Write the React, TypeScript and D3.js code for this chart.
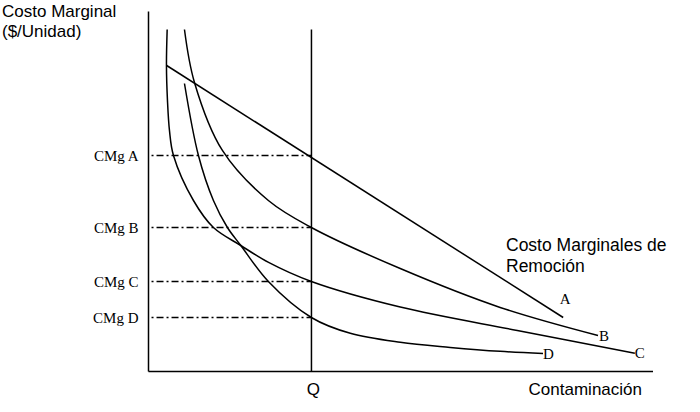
import React from "react";
import * as d3 from "d3";

// ---- data (conceptual units: x = contamination 0..100, y = marginal cost 0..100)
const Q = 32.3;
const cmgLabels = ["CMg A", "CMg B", "CMg C", "CMg D"];
const cmgValues = [60, 40, 25, 15];

const curveAX = [3.6, 82.2];
const curveAY = [85, 15];

const curveBX = [7.13, 9.11, 14.65, 23.76, 32.28, 49.9, 69.7, 89.1];
const curveBY = [95, 80.3, 61.4, 47.5, 40.0, 28.6, 17.8, 10.0];

const curveCX = [3.7, 3.56, 3.76, 4.16, 4.95, 8.91, 12.87, 18.3, 23.8, 32.28, 49.9, 73.1, 96.4];
const curveCY = [95, 85, 75.3, 66.9, 60, 47.5, 40, 35.0, 30.3, 25, 17.9, 11.4, 5.1];

const curveDX = [7.13, 9.9, 12.87, 15.64, 18.3, 23.76, 32.28, 40.0, 49.9, 59.8, 69.7, 78.2];
const curveDY = [80.0, 60.0, 47.5, 40.0, 35.0, 25.0, 15.0, 10.6, 8.1, 6.7, 5.6, 5.0];

const curveNames = ["A", "B", "C", "D"];

const W = 700;
const H = 412;

export default function App() {
  const x = d3.scaleLinear().domain([0, 100]).range([148.5, 653]);
  const y = d3.scaleLinear().domain([0, 100]).range([371.5, 11.5]);

  const line = d3
    .line<[number, number]>()
    .x((d) => x(d[0]))
    .y((d) => y(d[1]))
    .curve(d3.curveCatmullRom.alpha(0.5));

  const zip = (xs: number[], ys: number[]) => xs.map((v, i) => [v, ys[i]] as [number, number]);
  const curves = [
    zip(curveAX, curveAY),
    zip(curveBX, curveBY),
    zip(curveCX, curveCY),
    zip(curveDX, curveDY),
  ];

  const serif = "'Liberation Serif', 'Times New Roman', serif";
  const sans = "'Liberation Sans', Arial, Helvetica, sans-serif";

  const labelPos = curves.map((c) => c[c.length - 1]);

  return (
    <svg
      width={W}
      height={H}
      style={{ position: "absolute", left: 0, top: 0, background: "#fff" }}
    >
      <rect x={0} y={0} width={W} height={H} fill="#fff" />
      {/* axes */}
      <line x1={x(0)} x2={x(0)} y1={y(0)} y2={y(100)} stroke="#000" strokeWidth={1.5} />
      <line x1={x(0)} x2={x(100)} y1={y(0)} y2={y(0)} stroke="#000" strokeWidth={1.5} />
      {/* Q line */}
      <line x1={x(Q)} x2={x(Q)} y1={y(0)} y2={y(95)} stroke="#000" strokeWidth={1.5} />

      {/* dash-dot reference lines */}
      {cmgValues.map((v, i) => (
        <g key={i}>
          <line
            x1={x(0.6)}
            x2={x(Q)}
            y1={y(v)}
            y2={y(v)}
            stroke="#000"
            strokeWidth={1.3}
            strokeDasharray="2,3,7,3"
          />
          <text
            x={x(0) - 10}
            y={y(v) + 5}
            textAnchor="end"
            fontFamily={serif}
            fontSize={15}
            fill="#000"
          >
            {cmgLabels[i]}
          </text>
        </g>
      ))}

      {/* curves */}
      {curves.map((c, i) => (
        <path key={i} d={line(c) || ""} fill="none" stroke="#000" strokeWidth={1.5} />
      ))}

      {/* curve labels */}
      <text x={x(labelPos[0][0]) + 2} y={y(labelPos[0][1]) - 14} textAnchor="middle" fontFamily={serif} fontSize={15}>
        {curveNames[0]}
      </text>
      <text x={x(labelPos[1][0]) + 1} y={y(labelPos[1][1]) + 5} textAnchor="start" fontFamily={serif} fontSize={15}>
        {curveNames[1]}
      </text>
      <text x={x(labelPos[2][0])} y={y(labelPos[2][1]) + 5} textAnchor="start" fontFamily={serif} fontSize={15}>
        {curveNames[2]}
      </text>
      <text x={x(labelPos[3][0])} y={y(labelPos[3][1]) + 5} textAnchor="start" fontFamily={serif} fontSize={15}>
        {curveNames[3]}
      </text>

      {/* titles */}
      <text x={2} y={17} fontFamily={sans} fontSize={17} fill="#000">
        Costo Marginal
      </text>
      <text x={2} y={37} fontFamily={sans} fontSize={17} fill="#000">
        ($/Unidad)
      </text>
      <text x={506} y={250.5} fontFamily={sans} fontSize={17.5} fill="#000">
        Costo Marginales de
      </text>
      <text x={506} y={271.5} fontFamily={sans} fontSize={17.5} fill="#000">
        Remoción
      </text>
      <text x={x(Q) + 2} y={395} textAnchor="middle" fontFamily={sans} fontSize={17} fill="#000">
        Q
      </text>
      <text x={642} y={395} textAnchor="end" fontFamily={sans} fontSize={17} fill="#000">
        Contaminación
      </text>
    </svg>
  );
}
